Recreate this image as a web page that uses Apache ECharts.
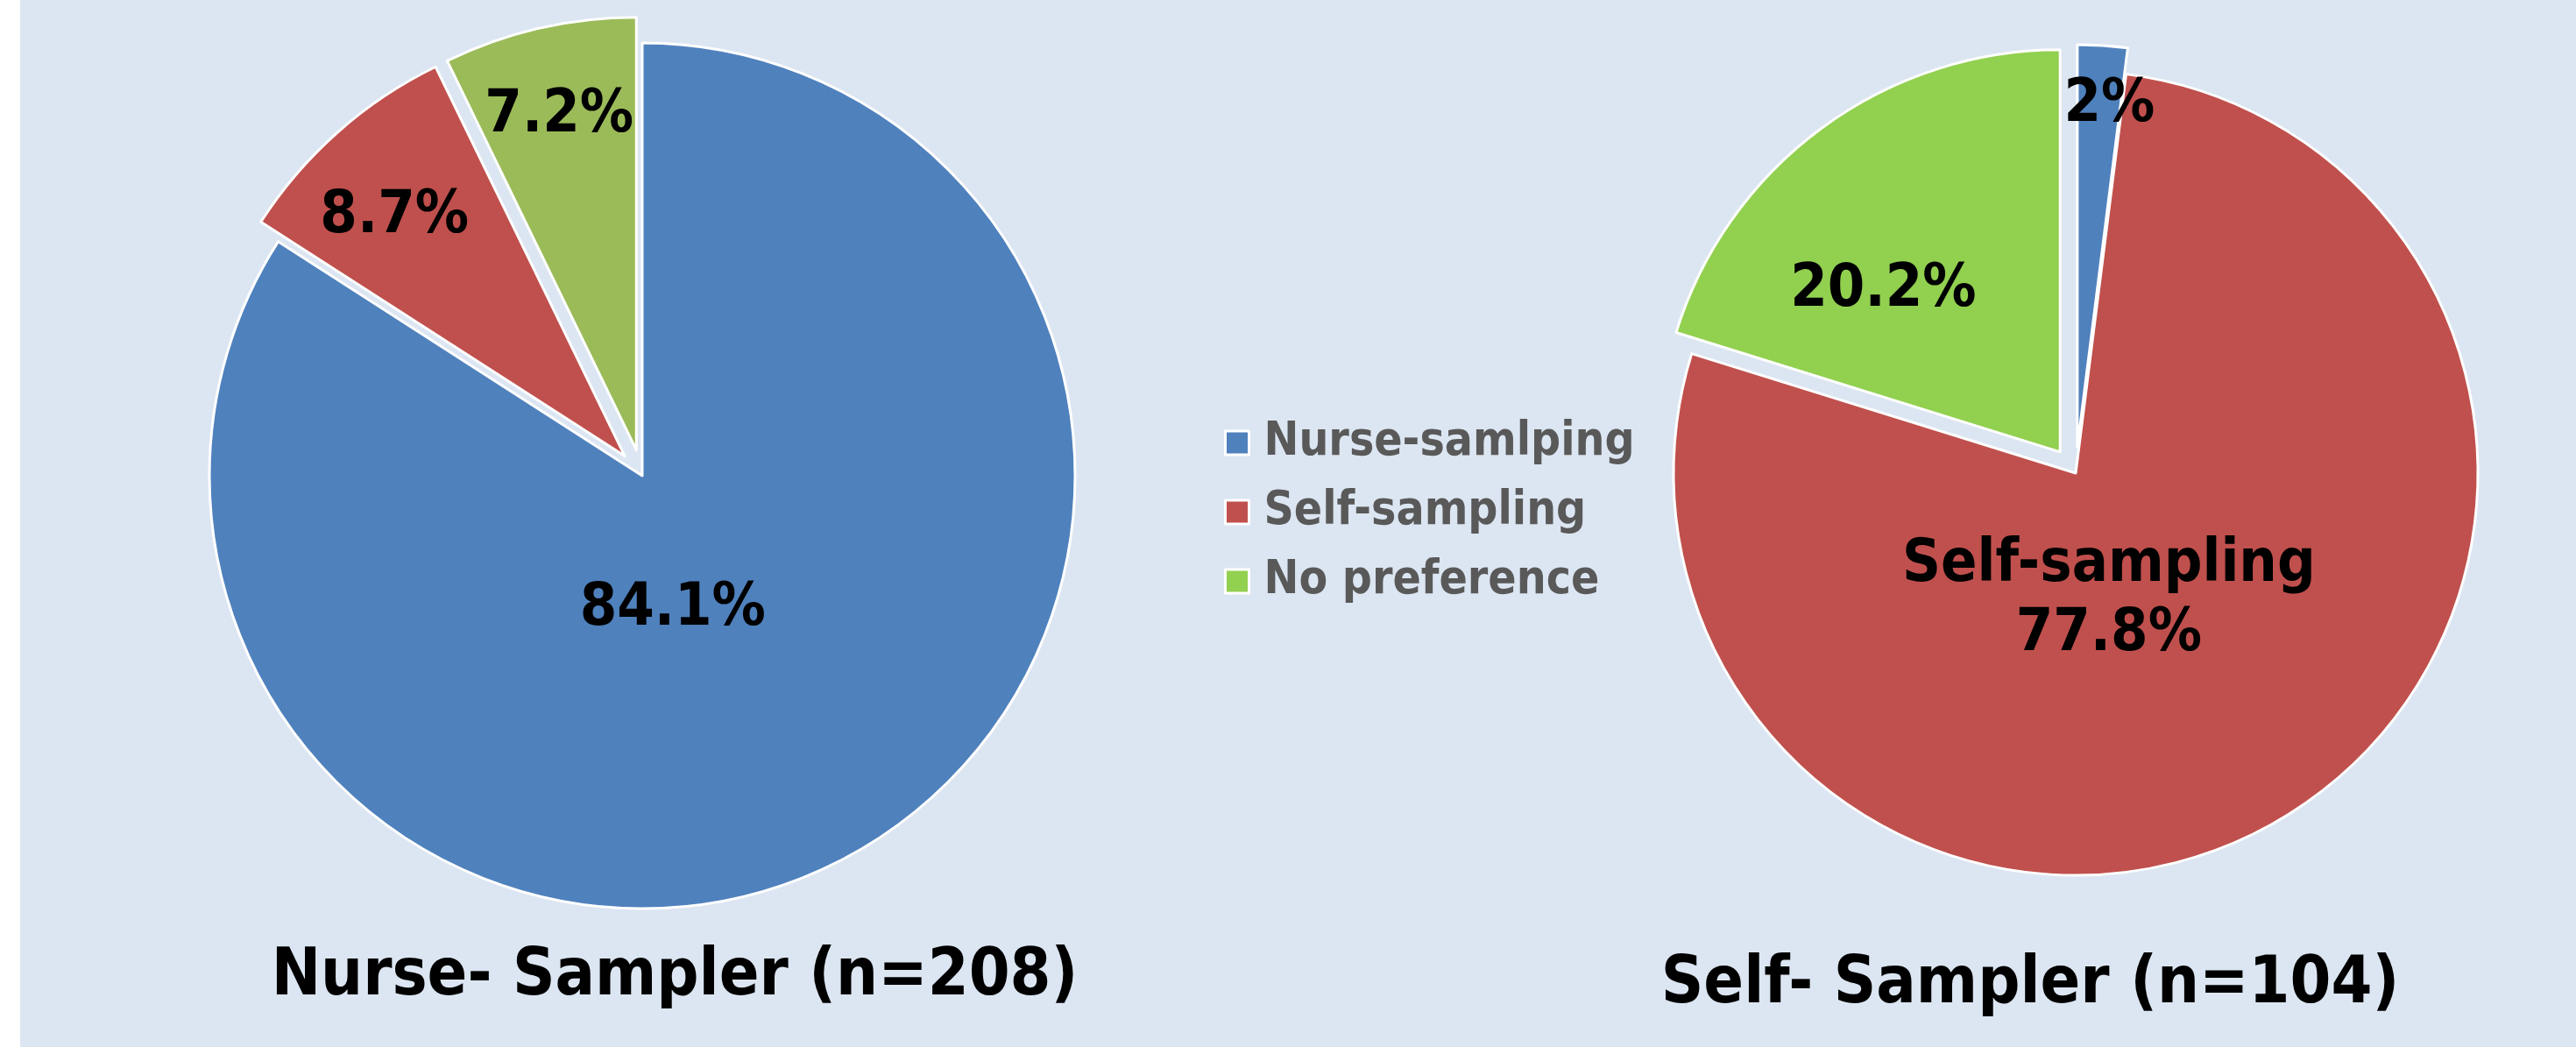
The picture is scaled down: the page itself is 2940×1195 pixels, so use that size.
<!DOCTYPE html>
<html><head><meta charset="utf-8">
<script src="https://cdn.jsdelivr.net/npm/echarts@6/dist/echarts.min.js"></script>
<style>html,body{margin:0;padding:0;background:#fff}#c{width:2940px;height:1195px}</style>
</head><body><div id="c"></div>
<script>
// ---- data ----
const categories = ['Nurse-samlping', 'Self-sampling', 'No preference'];
const nurseSamplerValues = [84.1, 8.7, 7.2];
const selfSamplerValues = [2, 77.8, 20.2];
const groupTitles = ['Nurse- Sampler (n=208)', 'Self- Sampler (n=104)'];

// ---- styles ----
const FONT = '"DejaVu Sans Condensed", "DejaVu Sans", sans-serif';
const leftColors = ['#4F81BD', '#C0504D', '#9BBB59'];
const rightColors = ['#4F81BD', '#C0504D', '#92D050'];
const legendColors = ['#4F81BD', '#C0504D', '#92D050'];
const leftExploded = [false, true, true];
const rightExploded = [true, false, true];
const rightShowName = [false, true, false];
const labelShift = [
  [[-85, -67], [-97, -86], [-32, -138]],
  [[22, -158], [-88, -51], [-64, 3]]
];

function buildData(values, colors, exploded, showName) {
  return categories.map((name, i) => ({
    name: name,
    value: values[i],
    selected: exploded[i],
    itemStyle: { color: colors[i] },
    label: showName && showName[i] ? { formatter: '{b}\n{c}%' } : undefined
  }));
}

const commonSeries = {
  type: 'pie',
  startAngle: 90,
  clockwise: true,
  selectedMode: 'multiple',
  selectedOffset: 30,
  avoidLabelOverlap: false,
  itemStyle: { borderColor: '#ffffff', borderWidth: 3 },
  select: { itemStyle: { borderColor: '#ffffff', borderWidth: 3 } },
  emphasis: { scale: false, disabled: true },
  label: {
    show: true, position: 'inside', formatter: '{c}%',
    color: '#000', fontSize: 68, fontWeight: 'bold', fontFamily: FONT, lineHeight: 79
  },
  labelLine: { show: false },
  labelLayout: function (p) {
    const s = labelShift[p.seriesIndex][p.dataIndex];
    return { dx: s[0], dy: s[1] };
  }
};

const chart = echarts.init(document.getElementById('c'));
chart.setOption({
  animation: false,
  backgroundColor: '#DCE6F2',
  legend: {
    orient: 'vertical', left: 1392, top: 474,
    itemWidth: 27, itemHeight: 27, itemGap: 26, icon: 'rect',
    selectedMode: false,
    data: categories.map((n, i) => ({ name: n, itemStyle: { color: legendColors[i], borderColor: '#fff', borderWidth: 3 } })),
    textStyle: { fontSize: 53, fontWeight: 'bold', color: '#595959', fontFamily: FONT, padding: [0, 0, 0, 12] }
  },
  graphic: [
    { type: 'rect', left: 0, top: 0, shape: { width: 23, height: 1195 }, style: { fill: '#ffffff' }, silent: true },
    { type: 'text', x: 770, y: 1116, style: { text: groupTitles[0], fill: '#000', font: 'bold 75px ' + FONT, textAlign: 'center', textVerticalAlign: 'middle' } },
    { type: 'text', x: 2317, y: 1125, style: { text: groupTitles[1], fill: '#000', font: 'bold 75px ' + FONT, textAlign: 'center', textVerticalAlign: 'middle' } }
  ],
  series: [
    Object.assign({}, commonSeries, { name: groupTitles[0], center: [733, 543], radius: 494, data: buildData(nurseSamplerValues, leftColors, leftExploded, null) }),
    Object.assign({}, commonSeries, { name: groupTitles[1], center: [2369, 540], radius: 459, data: buildData(selfSamplerValues, rightColors, rightExploded, rightShowName) })
  ]
});
</script>
</body></html>
